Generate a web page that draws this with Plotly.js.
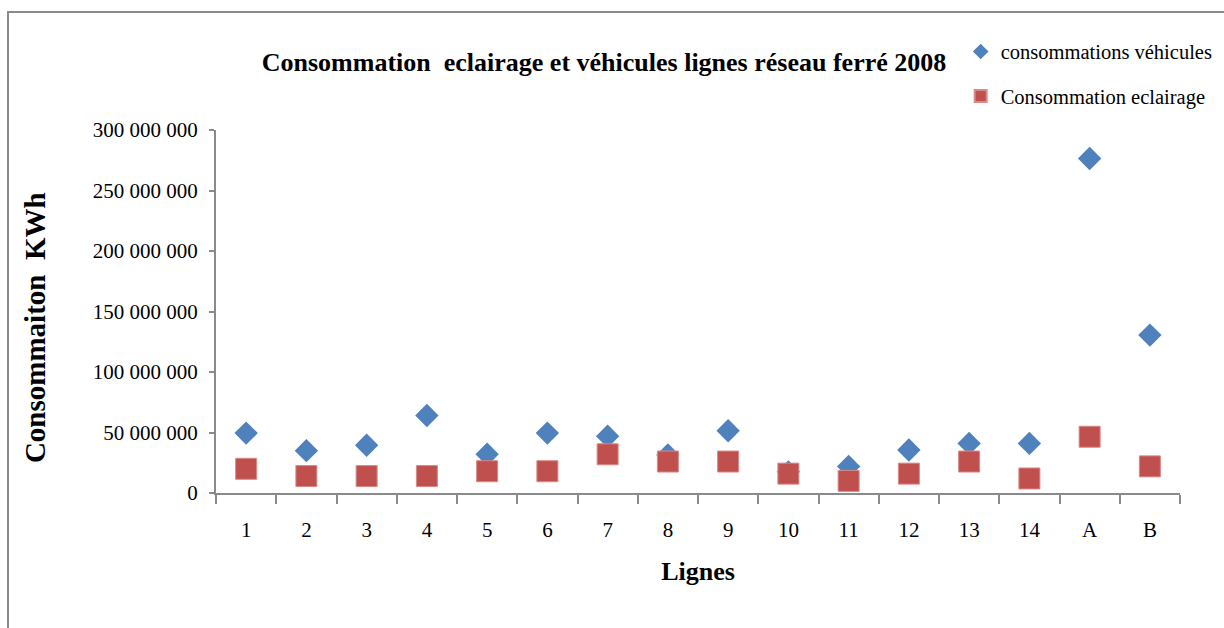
<!DOCTYPE html>
<html>
<head>
<meta charset="utf-8">
<script src="https://cdn.plot.ly/plotly-3.0.1.min.js"></script>
<style>
html,body{margin:0;padding:0;background:#fff;}
#wrap{position:relative;width:1224px;height:628px;}
#frame{position:absolute;left:7px;top:11px;width:1230px;height:640px;border-left:2px solid #8a8a8a;border-top:2px solid #8a8a8a;pointer-events:none;}
#chart{position:absolute;left:0;top:0;width:1224px;height:628px;}
</style>
</head>
<body>
<div id="wrap"><div id="chart"></div><div id="frame"></div></div>
<script>
var categories = ["1","2","3","4","5","6","7","8","9","10","11","12","13","14","A","B"];
var vehicules = [49500000, 35000000, 39500000, 64000000, 32000000, 49500000, 47000000, 31500000, 51500000, 17500000, 22000000, 35500000, 41000000, 41000000, 276500000, 130500000];
var eclairage = [20000000, 14000000, 14000000, 14000000, 18000000, 18000000, 32000000, 26000000, 26000000, 16000000, 10000000, 16000000, 26000000, 12000000, 46500000, 22000000];
var yTicks = [0, 50000000, 100000000, 150000000, 200000000, 250000000, 300000000];

var serif = "Liberation Serif, Times New Roman, serif";
var traces = [
  {type:"scatter", mode:"markers", name:"consommations véhicules", x:categories, y:vehicules,
   legendgroup:"a",
   marker:{symbol:"diamond", size:18, color:"#4F81BD"}},
  {type:"scatter", mode:"markers", name:"Consommation eclairage", x:categories, y:eclairage,
   legendgroup:"b",
   marker:{symbol:"square", size:21, color:"#C0504D", line:{width:1, color:"#d88a88"}}}
];
var layout = {
  width:1224, height:628,
  margin:{l:216, r:44, t:130, b:135, autoexpand:false},
  paper_bgcolor:"#fff", plot_bgcolor:"#fff",
  separators:". ",
  font:{family:serif, color:"#000", size:21},
  title:{text:"<b>Consommation  eclairage et véhicules lignes réseau ferré 2008</b>",
    font:{family:serif, size:26, color:"#000"},
    xref:"paper", x:0.4025, xanchor:"center", yref:"container", y:0.901, yanchor:"middle"},
  showlegend:true,
  legend:{x:0.7725, xanchor:"left", y:1.271, yanchor:"top", font:{family:serif, size:20.5, color:"#000"},
    bgcolor:"rgba(0,0,0,0)", tracegroupgap:15, itemsizing:"constant", itemwidth:30},
  xaxis:{type:"category", showgrid:false, zeroline:false, showline:true, linecolor:"#8a8a8a", linewidth:2,
    ticks:"outside", tickson:"boundaries", ticklen:9, tickcolor:"#8a8a8a", tickwidth:2,
    ticklabelstandoff:17,
    tickfont:{family:serif, size:21, color:"#000"},
    range:[-0.5, 15.5],
    title:{text:"<b>Lignes</b>", font:{family:serif, size:26, color:"#000"}, standoff:21}},
  yaxis:{range:[0, 300000000], tickvals:yTicks, showgrid:false, zeroline:false, showline:true,
    linecolor:"#8a8a8a", linewidth:2, ticks:"outside", ticklen:5, tickcolor:"#8a8a8a", tickwidth:2,
    ticklabelstandoff:7,
    tickformat:",d", tickfont:{family:serif, size:21, color:"#000"}},
  annotations:[{text:"<b>Consommaiton  KWh</b>", xref:"paper", yref:"paper", x:-0.1878, y:0.457,
    xanchor:"center", yanchor:"middle", textangle:-90, showarrow:false,
    font:{family:serif, size:29, color:"#000"}}]
};
Plotly.newPlot("chart", traces, layout, {displayModeBar:false, staticPlot:true});
</script>
</body>
</html>
